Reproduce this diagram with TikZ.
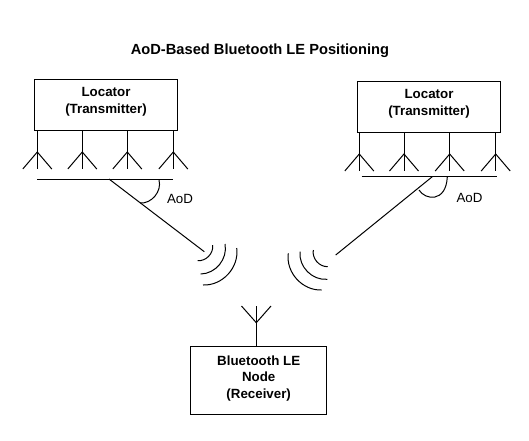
\documentclass[tikz,border=0pt]{standalone}
\usepackage{fontspec}
\setmainfont{Liberation Sans}
\usetikzlibrary{positioning, calc}
\tikzset{
  boxnode/.style={draw=black, line width=0.75pt},
  boxtext/.style={align=center, font=\fontsize{10}{12.6}\selectfont\bfseries, inner sep=0pt},
  aodtext/.style={font=\fontsize{10}{12}\selectfont},
  wire/.style={draw=black, line width=0.75pt}
}

\begin{document}
\begin{tikzpicture}[x=0.75pt, y=-0.75pt]
  \useasboundingbox (0,0) rectangle (529,440);

  % Title
  \node[font=\fontsize{11}{13}\selectfont\bfseries] (title) at (260,50.5) {AoD-Based Bluetooth LE Positioning};

  % Left locator
  \node[boxnode, minimum width=107.8pt, minimum height=38pt] (locatorL) at (106,105) {};
  \node[boxtext] (textL) at (106,102) {Locator\\(Transmitter)};
  \foreach \x in {37.3, 82.3, 127.3, 173.3} {
    \draw[wire] (\x,130) -- (\x,169);
    \draw[wire] (\x-14.5,169) -- (\x,152) -- (\x+14.5,169);
  }
  \coordinate (barLa) at (37.3,179);
  \coordinate (barLb) at (173.3,179);
  \draw[wire] (barLa) -- (barLb);

  % Left signal path
  \coordinate (pathLa) at (109,179);
  \coordinate (pathLb) at (204.3,251.7);
  \draw[wire] (pathLa) -- (pathLb);
  \draw[wire] (159,180) to[bend left=55] (140,203);
  \node[aodtext] (aodL) at (180,199) {AoD};

  % Left waves
  \draw[wire] (197.7,260.7) to[bend right=50] (212.7,245);
  \draw[wire] (200.7,274) to[bend right=50] (225,244);
  \draw[wire] (203,285) to[bend right=50] (236.7,248);

  % Right locator
  \node[boxnode, minimum width=107.8pt, minimum height=38pt] (locatorR) at (429,107) {};
  \node[boxtext] (textR) at (429,104) {Locator\\(Transmitter)};
  \foreach \x in {359.3, 404, 449.7, 495.7} {
    \draw[wire] (\x,132) -- (\x,171);
    \draw[wire] (\x-14.5,171) -- (\x,154) -- (\x+14.5,171);
  }
  \coordinate (barRa) at (361.7,176.7);
  \coordinate (barRb) at (497.3,176.7);
  \draw[wire] (barRa) -- (barRb);

  % Right signal path
  \coordinate (pathRa) at (432.3,176.7);
  \coordinate (pathRb) at (335.7,255);
  \draw[wire] (pathRa) -- (pathRb);
  \draw[wire] (447.3,177) .. controls (446,203) and (425,200) .. (419,190);
  \node[aodtext] (aodR) at (469.5,198) {AoD};

  % Right waves
  \draw[wire] (313.3,250) to[bend right=50] (327.7,266.7);
  \draw[wire] (300,251.7) to[bend right=50] (327.3,279.3);
  \draw[wire] (288.3,253.3) to[bend right=50] (321.7,290);

  % Receiver
  \node[boxnode, minimum width=102pt, minimum height=51pt] (receiver) at (258.7,380) {};
  \node[boxtext] (textRx) at (258.7,378.5) {Bluetooth LE\\Node\\(Receiver)};
  \coordinate (rxtip) at (256.3,305.7);
  \draw[wire] (256.3,346) -- (rxtip);
  \draw[wire] (241.5,306) -- (256.3,322.7) -- (271,306);
\end{tikzpicture}
\end{document}
